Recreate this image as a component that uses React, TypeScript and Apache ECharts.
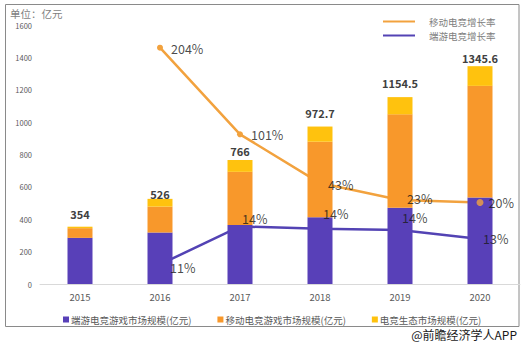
import React, { useEffect, useRef } from "react";
import * as echarts from "echarts";

const years = ["2015", "2016", "2017", "2018", "2019", "2020"];
const pcGame = [285, 318, 364, 412, 471, 535];
const mobileGame = [60, 160, 329, 467, 577, 689];
const ecosystem = [9, 48, 73, 93.7, 106.5, 121.6];
const totals = [354, 526, 766, 972.7, 1154.5, 1345.6];
const mobileGrowth = [null, 204, 101, 43, 23, 20];
const pcGrowth = [null, 11.0, 14.3, 14.1, 14.0, 13.2];
const yTicks = [0, 200, 400, 600, 800, 1000, 1200, 1400, 1600];

const seriesNames = {
  pc: "端游电竞游戏市场规模(亿元)",
  mobile: "移动电竞游戏市场规模(亿元)",
  eco: "电竞生态市场规模(亿元)",
  mobileRate: "移动电竞增长率",
  pcRate: "端游电竞增长率",
};

// label placement tweaks (styling only)
const totalLabelOffsets = [-2, 6, 1.5, -3.5, -3.5, 2];
const mobileLabelOffsets = [[0, 0], [6, 1], [6, 0], [3, 1], [2, -1], [0, 0]];
const pcLabelOffsets = [[0, 0], [5, 3], [-3, -8], [-2, -15], [-3, -12.5], [-2, -1]];

const FONT = "'Noto Sans CJK SC', 'Noto Sans', sans-serif";
const PURPLE = "#5840B8";
const ORANGE = "#F8982B";
const YELLOW = "#FFC20E";
const LINE_ORANGE = "#F2A23E";
const LINE_PURPLE = "#5343B4";

export default function App() {
  const ref = useRef<HTMLDivElement>(null);
  useEffect(() => {
    if (!ref.current) return;
    const chart = echarts.init(ref.current, undefined, { renderer: "svg" });
    const pctLabel = (v: any) => Math.round(v) + "%";
    const topLegend = (name: string, top: number) => ({
      data: [{ name, icon: "rect" }],
      orient: "horizontal",
      left: 383,
      top,
      padding: 0,
      itemWidth: 32,
      itemHeight: 2,
      textStyle: { color: "#808080", fontSize: 9.5, fontFamily: FONT, lineHeight: 11, padding: [0, 0, 0, 9] },
    });
    chart.setOption({
      animation: false,
      textStyle: { fontFamily: FONT },
      grid: { left: 40, right: 7, top: 25, bottom: 71, containLabel: false },
      graphic: [
        {
          type: "rect",
          shape: { x: 5.5, y: 4.5, width: 513.5, height: 322 },
          style: { fill: "none", stroke: "#8a8a8a", lineWidth: 1 },
          silent: true,
        },
        {
          type: "text",
          left: 10,
          top: 8,
          style: { text: "单位：亿元", fill: "#7f7f7f", fontSize: 10.5, fontFamily: FONT },
        },
        {
          type: "text",
          right: 10,
          top: 328,
          style: { text: "@前瞻经济学人APP", fill: "#1a1a1a", fontSize: 12, fontFamily: FONT },
        },
      ],
      legend: [
        {
          data: [
            { name: seriesNames.pc, icon: "rect" },
            { name: seriesNames.mobile, icon: "rect" },
            { name: seriesNames.eco, icon: "rect" },
          ],
          orient: "horizontal",
          left: 63,
          top: 314,
          padding: 0,
          itemWidth: 6,
          itemHeight: 6,
          itemGap: 26,
          textStyle: { color: "#595959", fontSize: 9.5, fontFamily: FONT, lineHeight: 11, padding: [0, 0, 0, -3] },
        },
        topLegend(seriesNames.mobileRate, 16),
        topLegend(seriesNames.pcRate, 30),
      ],
      xAxis: {
        type: "category",
        data: years,
        boundaryGap: true,
        axisLine: { lineStyle: { color: "#d9d9d9", width: 1 } },
        axisTick: { show: false },
        axisLabel: { color: "#595959", fontSize: 9.5, margin: 8 },
      },
      yAxis: [
        {
          type: "value",
          min: yTicks[0],
          max: yTicks[yTicks.length - 1],
          interval: 200,
          axisLine: { show: false },
          axisTick: { show: false },
          splitLine: { show: false },
          axisLabel: { color: "#595959", fontSize: 7.5, margin: 8, formatter: (v: number) => String(v) },
        },
        { type: "value", min: -77, max: 231, show: false, splitLine: { show: false } },
        { type: "value", min: 9.3, max: 31.8, show: false, splitLine: { show: false } },
      ],
      series: [
        {
          name: seriesNames.mobileRate,
          type: "line",
          yAxisIndex: 1,
          data: mobileGrowth,
          z: 1,
          color: LINE_ORANGE,
          lineStyle: { width: 2.5, color: LINE_ORANGE },
          symbol: "circle",
          symbolSize: 6,
          itemStyle: { color: LINE_ORANGE },
        },
        {
          name: seriesNames.pcRate,
          type: "line",
          yAxisIndex: 2,
          data: pcGrowth,
          z: 1,
          color: LINE_PURPLE,
          lineStyle: { width: 2.5, color: LINE_PURPLE },
          showSymbol: false,
          itemStyle: { color: LINE_PURPLE },
        },
        {
          name: seriesNames.pc,
          type: "bar",
          stack: "size",
          barWidth: 25,
          z: 2,
          data: pcGame,
          itemStyle: { color: PURPLE },
        },
        {
          name: seriesNames.mobile,
          type: "bar",
          stack: "size",
          barWidth: 25,
          z: 2,
          data: mobileGame,
          itemStyle: { color: ORANGE },
        },
        {
          name: seriesNames.eco,
          type: "bar",
          stack: "size",
          barWidth: 25,
          z: 2,
          itemStyle: { color: YELLOW },
          data: ecosystem.map((v, i) => ({
            value: v,
            label: {
              show: true,
              position: "top",
              distance: 5,
              offset: [0, totalLabelOffsets[i]],
              formatter: () => String(totals[i]),
              color: "#404040",
              fontSize: 11,
              fontWeight: "bold",
              fontFamily: FONT,
            },
          })),
        },
        {
          name: "_mobileRateLabels",
          type: "scatter",
          yAxisIndex: 1,
          z: 5,
          silent: true,
          data: mobileGrowth.map((v, i) => ({
            value: v,
            symbolSize: i === 5 ? 7 : 0,
            itemStyle: { color: LINE_ORANGE },
            label: {
              show: v !== null,
              position: "right",
              distance: 5,
              offset: mobileLabelOffsets[i],
              formatter: (p: any) => pctLabel(p.value),
              color: "#1a1a1a",
              fontSize: 12.5,
              lineHeight: 14,
              fontFamily: FONT,
            },
          })),
        },
        {
          name: "_pcRateLabels",
          type: "scatter",
          yAxisIndex: 2,
          z: 5,
          silent: true,
          symbolSize: 0,
          data: pcGrowth.map((v, i) => ({
            value: v,
            label: {
              show: v !== null,
              position: "right",
              distance: 5,
              offset: pcLabelOffsets[i],
              formatter: (p: any) => pctLabel(p.value),
              color: "#1a1a1a",
              fontSize: 12.5,
              lineHeight: 14,
              fontFamily: FONT,
            },
          })),
        },
      ],
    });
    return () => chart.dispose();
  }, []);
  return (
    <div
      ref={ref}
      style={{ position: "absolute", left: 0, top: 0, width: 527, height: 355, background: "#fff" }}
    />
  );
}
